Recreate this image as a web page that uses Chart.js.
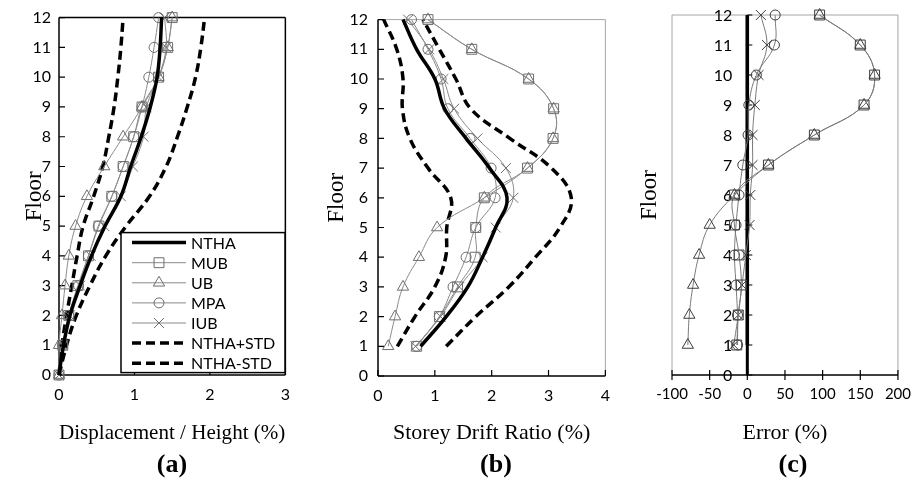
<!DOCTYPE html>
<html>
<head>
<meta charset="utf-8">
<title>Floor response – NTHA vs pushover methods</title>
<script src="https://cdn.jsdelivr.net/npm/chart.js@4.4.1/dist/chart.umd.min.js"></script>
<style>
  html, body { margin: 0; padding: 0; background: #fff; }
  #wrap { position: relative; width: 921px; height: 482px; overflow: hidden; }
  #wrap canvas { position: absolute; top: 0; }
  .tag {
    position: absolute; top: 449px; transform: translateX(-50%);
    font: bold 26px 'Liberation Serif', 'Times New Roman', serif; color: #000;
  }
</style>
</head>
<body>
<div id="wrap">
  <canvas id="chartA" width="300" height="450" style="left:0"></canvas>
  <canvas id="chartB" width="320" height="450" style="left:300px"></canvas>
  <canvas id="chartC" width="301" height="450" style="left:620px"></canvas>
  <div class="tag" style="left:172px">(a)</div>
  <div class="tag" style="left:496px">(b)</div>
  <div class="tag" style="left:793px">(c)</div>
</div>
<script>
// floors: (a) starts at ground level, (b) and (c) at the first storey
const FLOORS_A = [0, 1, 2, 3, 4, 5, 6, 7, 8, 9, 10, 11, 12];
const FLOORS = [1, 2, 3, 4, 5, 6, 7, 8, 9, 10, 11, 12];
const FLOOR_TICKS = [0, 1, 2, 3, 4, 5, 6, 7, 8, 9, 10, 11, 12];

// (a) displacement / height (%)
const X_TICKS_A = [0, 1, 2, 3];
const NTHA_A  = [0, 0.06, 0.145, 0.28, 0.43, 0.61, 0.82, 0.95, 1.09, 1.21, 1.30, 1.34, 1.36];
const PLUS_A  = [0, 0.10, 0.23, 0.41, 0.62, 0.89, 1.20, 1.42, 1.57, 1.70, 1.81, 1.88, 1.93];
const MINUS_A = [0, 0.04, 0.10, 0.17, 0.24, 0.32, 0.46, 0.58, 0.66, 0.73, 0.78, 0.82, 0.85];
const MUB_A   = [0, 0.05, 0.13, 0.25, 0.39, 0.53, 0.70, 0.85, 0.99, 1.10, 1.32, 1.44, 1.50];
const UB_A    = [0, 0.00, 0.04, 0.08, 0.13, 0.22, 0.37, 0.60, 0.85, 1.10, 1.32, 1.44, 1.50];
const MPA_A   = [0, 0.05, 0.13, 0.26, 0.39, 0.52, 0.70, 0.85, 0.99, 1.10, 1.19, 1.26, 1.32];
const IUB_A   = [0, 0.05, 0.14, 0.28, 0.42, 0.60, 0.82, 0.98, 1.12, 1.16, 1.32, 1.42, 1.40];

// (b) storey drift ratio (%)
const X_TICKS_B = [0, 1, 2, 3, 4];
const NTHA_B  = [0.75, 1.20, 1.58, 1.84, 2.07, 2.27, 1.96, 1.55, 1.17, 1.00, 0.68, 0.44];
const PLUS_B  = [1.20, 1.72, 2.30, 2.77, 3.20, 3.40, 3.05, 2.32, 1.63, 1.37, 1.08, 0.79];
const MINUS_B = [0.34, 0.65, 1.00, 1.19, 1.21, 1.28, 0.88, 0.56, 0.43, 0.44, 0.33, 0.10];
const MUB_B   = [0.68, 1.08, 1.40, 1.71, 1.72, 1.87, 2.63, 3.08, 3.09, 2.65, 1.65, 0.88];
const UB_B    = [0.18, 0.30, 0.44, 0.72, 1.04, 1.87, 2.63, 3.08, 3.09, 2.65, 1.65, 0.88];
const MPA_B   = [0.68, 1.08, 1.32, 1.55, 1.72, 2.06, 1.99, 1.62, 1.23, 1.11, 0.88, 0.59];
const IUB_B   = [0.66, 1.10, 1.43, 1.84, 2.07, 2.38, 2.25, 1.75, 1.34, 1.15, 0.90, 0.53];

// (c) drift error relative to NTHA (%)
const X_TICKS_C = [-100, -50, 0, 50, 100, 150, 200];
const NTHA_C  = [0, 0, 0, 0, 0, 0, 0, 0, 0, 0, 0, 0];
const MUB_C   = [-14, -12, -8, -11, -17, -17, 28, 89, 155, 169, 150, 96];
const UB_C    = [-79, -77, -72, -64, -50, -17, 28, 89, 155, 169, 150, 96];
const MPA_C   = [-13, -13, -15, -17, -15, -11, -6, 1, 2, 12, 36, 37];
const IUB_C   = [-18, -12, -7, -2, 3, 4, 7, 7, 10, 15, 26, 18];

const SERIF = "'Liberation Serif', 'Times New Roman', serif";
const SANS = "Lato, 'Noto Sans', sans-serif";
Chart.defaults.font.family = SANS;
Chart.defaults.font.size = 16;
Chart.defaults.color = '#000';

const MARKERS = {
  MUB: { style: 'rect', r: 7 },
  UB:  { style: 'triangle', r: 6.5 },
  MPA: { style: 'circle', r: 5 },
  IUB: { style: 'crossRot', r: 7 },
};

const pairs = (xs, ys) => xs.map((v, i) => ({ x: v, y: ys[i] }));

function nthaSet(xs, ys) {
  return { label: 'NTHA', data: pairs(xs, ys), borderColor: '#000', borderWidth: 3.5,
    pointRadius: 0, tension: 0.4, showLine: true, clip: false };
}
function stdSet(label, xs, ys) {
  return { label, data: pairs(xs, ys), borderColor: '#000', borderWidth: 3.5, borderDash: [9, 5],
    pointRadius: 0, tension: 0.4, showLine: true, clip: false };
}
function methodSet(name, xs, ys, lineCol, markCol) {
  const m = MARKERS[name];
  return { label: name, data: pairs(xs, ys), borderColor: lineCol, borderWidth: 1,
    pointStyle: m.style, pointRadius: m.r, pointBorderColor: markCol, pointBorderWidth: 1,
    pointBackgroundColor: 'rgba(0,0,0,0)', tension: 0.4, showLine: true, clip: false };
}

// box border drawn side by side (axes black, the rest grey)
const frame = {
  id: 'frame',
  beforeDatasetsDraw(chart, args, o) {
    const { ctx, chartArea: a } = chart;
    const side = (s, x1, y1, x2, y2) => {
      if (!o[s]) return;
      ctx.strokeStyle = o[s].color; ctx.lineWidth = o[s].width;
      ctx.beginPath(); ctx.moveTo(x1, y1); ctx.lineTo(x2, y2); ctx.stroke();
    };
    ctx.save();
    side('top', a.left, a.top, a.right, a.top);
    side('right', a.right, a.top, a.right, a.bottom);
    side('left', a.left, a.top, a.left, a.bottom);
    side('bottom', a.left, a.bottom, a.right, a.bottom);
    ctx.restore();
  }
};

// short tick marks; in (c) the floor axis sits on zero error and carries its own labels
const marks = {
  id: 'marks',
  beforeDatasetsDraw(chart, args, o) {
    const { ctx, chartArea: a, scales } = chart;
    ctx.save();
    ctx.strokeStyle = '#000'; ctx.lineWidth = 1.2;
    ctx.beginPath();
    scales.x.ticks.forEach(t => {
      const px = scales.x.getPixelForValue(t.value);
      ctx.moveTo(px, a.bottom + o.xDown); ctx.lineTo(px, a.bottom - o.xUp);
    });
    const x0 = o.yAt === null ? a.left : scales.x.getPixelForValue(o.yAt);
    scales.y.ticks.forEach(t => {
      const py = scales.y.getPixelForValue(t.value);
      ctx.moveTo(x0, py); ctx.lineTo(x0 + o.yIn, py);
    });
    ctx.stroke();
    if (o.yAt !== null) {
      ctx.lineWidth = o.axisWidth;
      ctx.beginPath(); ctx.moveTo(x0, a.bottom); ctx.lineTo(x0, a.top); ctx.stroke();
      ctx.font = o.labelSize + 'px ' + SANS;
      ctx.fillStyle = '#000'; ctx.textAlign = 'right'; ctx.textBaseline = 'middle';
      scales.y.ticks.forEach(t => {
        ctx.fillText(String(t.value), x0 - o.labelPad, scales.y.getPixelForValue(t.value) + 1);
      });
    }
    ctx.restore();
  }
};

// legend box inside the plot, built from the dataset styles
const boxLegend = {
  id: 'boxLegend',
  afterDatasetsDraw(chart, args, o) {
    if (!o.show) return;
    const { ctx, chartArea: a } = chart;
    const x0 = a.left + o.left, y0 = a.top + o.top;
    ctx.save();
    ctx.fillStyle = '#fff';
    ctx.fillRect(x0, y0, o.width, o.height);
    ctx.strokeStyle = '#000'; ctx.lineWidth = 1.5;
    ctx.strokeRect(x0, y0, o.width, o.height);
    chart.data.datasets.forEach((ds, i) => {
      const y = y0 + o.first + i * o.row;
      ctx.strokeStyle = ds.borderColor; ctx.lineWidth = ds.borderWidth;
      ctx.setLineDash(ds.borderDash || []);
      ctx.beginPath(); ctx.moveTo(x0 + o.lineFrom, y); ctx.lineTo(x0 + o.lineTo, y); ctx.stroke();
      ctx.setLineDash([]);
      if (ds.pointRadius) {
        ctx.strokeStyle = ds.pointBorderColor; ctx.fillStyle = 'rgba(0,0,0,0)';
        ctx.lineWidth = ds.pointBorderWidth;
        Chart.helpers.drawPoint(ctx, { pointStyle: ds.pointStyle, radius: ds.pointRadius,
          borderWidth: ds.pointBorderWidth, rotation: 0 }, x0 + (o.lineFrom + o.lineTo) / 2, y);
      }
      ctx.fillStyle = '#000'; ctx.textBaseline = 'middle'; ctx.textAlign = 'left';
      ctx.font = '16px ' + SANS;
      ctx.fillText(ds.label, x0 + o.textX, y + 1);
    });
    ctx.restore();
  }
};

function xScale(ticks, title, height, size) {
  return {
    type: 'linear', min: ticks[0], max: ticks[ticks.length - 1],
    ticks: { stepSize: ticks[1] - ticks[0], padding: 10, maxRotation: 0, minRotation: 0,
      autoSkip: false, font: { size } },
    grid: { display: false, drawTicks: false }, border: { display: false },
    title: { display: true, text: title, font: { family: SERIF, size: 22 }, padding: { top: 0, bottom: 4 } },
    afterFit: s => { s.height = height; }
  };
}
function floorScale(width, titlePad, labelPad, showLabels) {
  return {
    type: 'linear', min: FLOOR_TICKS[0], max: FLOOR_TICKS[FLOOR_TICKS.length - 1],
    ticks: { stepSize: 1, padding: labelPad, display: showLabels },
    grid: { display: false, drawTicks: false }, border: { display: false },
    title: { display: true, text: 'Floor', font: { family: SERIF, size: 23 }, padding: { top: titlePad, bottom: 0 } },
    afterFit: s => { s.width = width; }
  };
}

function panel(id, datasets, scales, padding, plugins) {
  return new Chart(document.getElementById(id), {
    type: 'scatter',
    data: { datasets },
    options: {
      responsive: false, animation: false, events: [],
      layout: { padding },
      plugins: Object.assign({ legend: { display: false }, tooltip: { enabled: false },
        boxLegend: { show: false } }, plugins),
      scales
    },
    plugins: [frame, marks, boxLegend]
  });
}

const BLACK = { color: '#000', width: 1.5 };
const GREY = { color: '#a6a6a6', width: 1 };
const LINE_AB = '#8a8a8a', MARK_AB = '#6e6e6e';
const LINE_C = '#7a7a7a', MARK_C = '#3c3c3c';

// (a)
panel('chartA', [
  nthaSet(NTHA_A, FLOORS_A),
  methodSet('MUB', MUB_A, FLOORS_A, LINE_AB, MARK_AB),
  methodSet('UB', UB_A, FLOORS_A, LINE_AB, MARK_AB),
  methodSet('MPA', MPA_A, FLOORS_A, LINE_AB, MARK_AB),
  methodSet('IUB', IUB_A, FLOORS_A, LINE_AB, MARK_AB),
  stdSet('NTHA+STD', PLUS_A, FLOORS_A),
  stdSet('NTHA-STD', MINUS_A, FLOORS_A),
], {
  x: xScale(X_TICKS_A, 'Displacement / Height (%)', 75, 16),
  y: floorScale(59, 21, 8, true),
}, { left: 0, top: 15, right: 12, bottom: 0 }, {
  frame: { top: BLACK, right: BLACK, left: BLACK, bottom: BLACK },
  marks: { xUp: 6, xDown: 0, yAt: null, yIn: 6 },
  boxLegend: { show: true, left: 62, top: 215, width: 164, height: 140, first: 10, row: 20.1,
    lineFrom: 11, lineTo: 65, textX: 70 },
});

// (b)
panel('chartB', [
  nthaSet(NTHA_B, FLOORS),
  methodSet('MUB', MUB_B, FLOORS, LINE_AB, MARK_AB),
  methodSet('UB', UB_B, FLOORS, LINE_AB, MARK_AB),
  methodSet('MPA', MPA_B, FLOORS, LINE_AB, MARK_AB),
  methodSet('IUB', IUB_B, FLOORS, LINE_AB, MARK_AB),
  stdSet('NTHA+STD', PLUS_B, FLOORS),
  stdSet('NTHA-STD', MINUS_B, FLOORS),
], {
  x: xScale(X_TICKS_B, 'Storey Drift Ratio (%)', 74, 16),
  y: floorScale(78, 23, 10, true),
}, { left: 0, top: 13, right: 13, bottom: 0 }, {
  frame: { top: GREY, right: GREY, left: BLACK, bottom: BLACK },
  marks: { xUp: 6, xDown: 0, yAt: null, yIn: 6 },
});

// (c)
panel('chartC', [
  methodSet('MUB', MUB_C, FLOORS, LINE_C, MARK_C),
  methodSet('UB', UB_C, FLOORS, LINE_C, MARK_C),
  methodSet('MPA', MPA_C, FLOORS, LINE_C, MARK_C),
  methodSet('IUB', IUB_C, FLOORS, LINE_C, MARK_C),
  nthaSet(NTHA_C, FLOORS),
], {
  x: xScale(X_TICKS_C, 'Error (%)', 75, 15),
  y: floorScale(52, 16, 0, false),
}, { left: 0, top: 15, right: 21, bottom: 0 }, {
  frame: { top: GREY, right: GREY, left: GREY, bottom: BLACK },
  marks: { xUp: 5, xDown: 5, yAt: 0, yIn: 5, axisWidth: 3, labelPad: 15, labelSize: 16 },
});
</script>
</body>
</html>
